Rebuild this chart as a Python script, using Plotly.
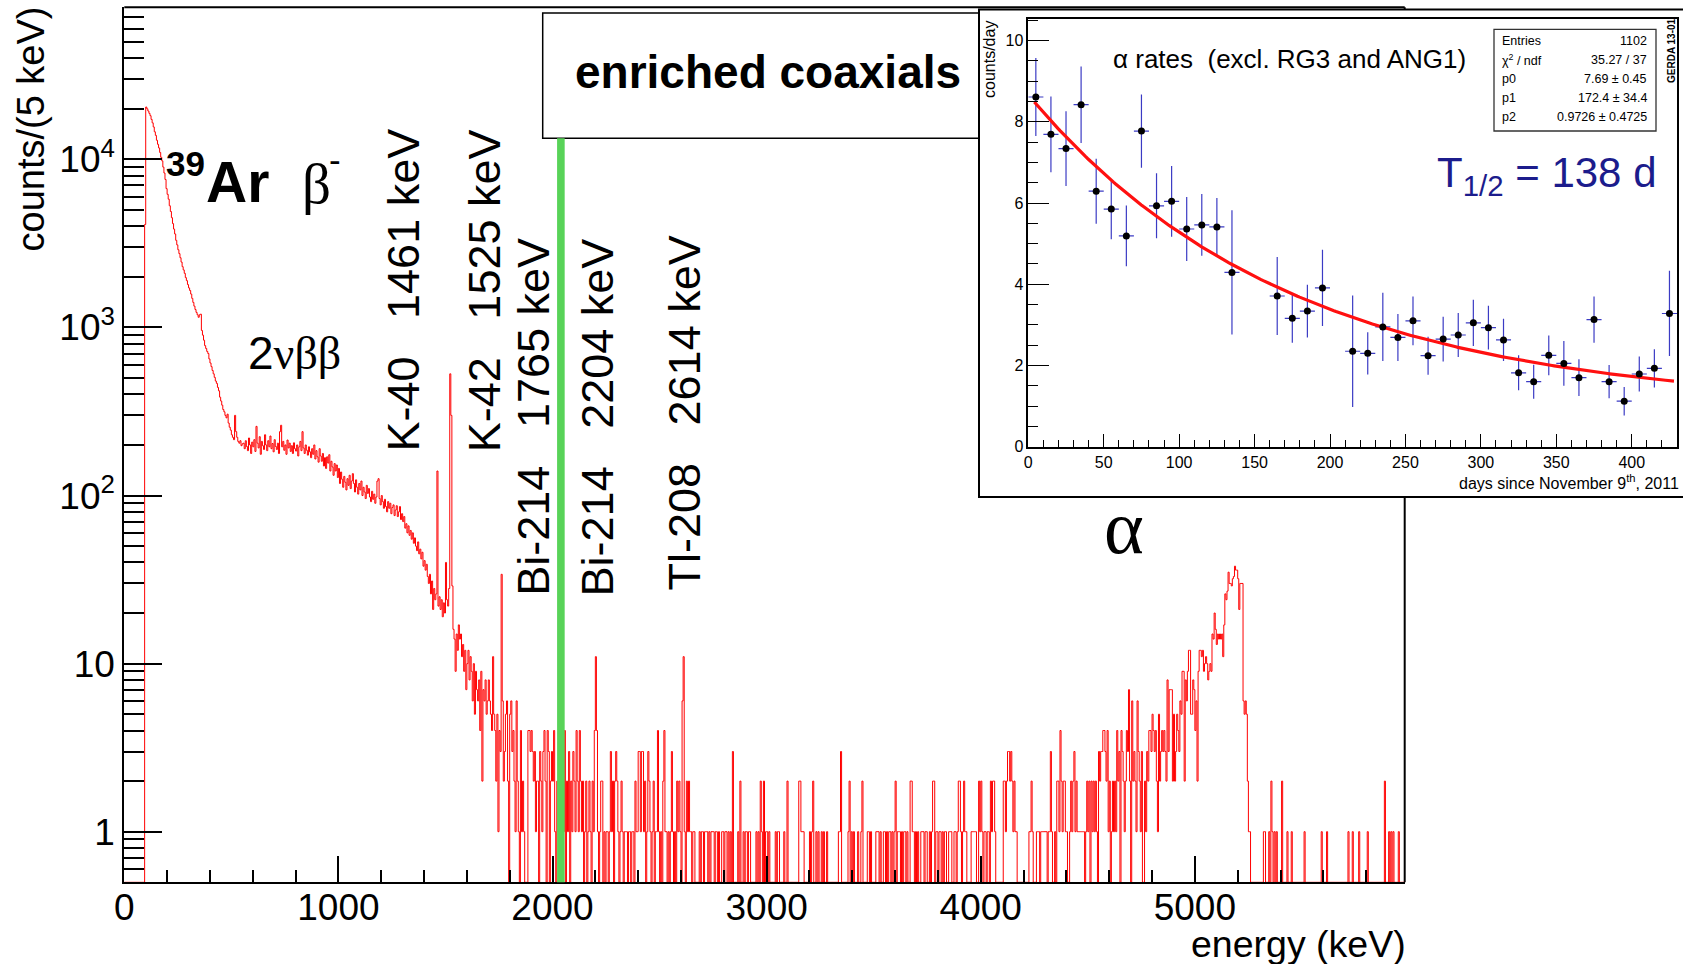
import numpy as np
import plotly.graph_objects as go

W, H = 1683, 964
SANS = "Liberation Sans, Arial, Helvetica, sans-serif"
SERIF = "Liberation Serif, Times New Roman, serif"


def fx(p):
    """pixel column -> paper x"""
    return p / W


def fy(p):
    """pixel row -> paper y"""
    return 1 - p / H


# ---------------- energy spectrum, counts per 5 keV bin ----------------
BIN_KEV = 5
E_MAX_KEV = 6000

# 39Ar beta spectrum (starts at the 95 keV bin)
counts_ar39 = [
    4100, 20500, 20000, 19400, 18800, 18200, 17300, 16500, 15600, 14600,
    13900, 13000, 12300, 11700, 11000, 10300, 9800, 9000, 8300, 7600,
    6700, 6200, 5800, 5300, 4900, 4500, 4150, 3850, 3600, 3300,
    3100, 2900, 2750, 2600, 2450, 2300, 2200, 2100, 1980, 1900,
    1800, 1720, 1660, 1580, 1490, 1410, 1340, 1280, 1230, 1190,
    1150, 1190, 1200, 960, 900, 840, 780, 750, 720, 700,
    650, 615, 585, 555, 530, 505, 480, 465, 440, 420,
    385, 365, 345, 325, 315, 300, 290, 305, 270, 255,
    245, 230, 222, 215, 300, 240, 222, 210, 205, 212,
    198, 203,
]
# 2nbb plateau (from 555 keV)
counts_2nbb = [
    205, 190, 212, 196, 185, 220, 200, 178, 208, 195,
    215, 183, 258, 205, 192, 224, 176, 210, 198, 188,
    230, 200, 185, 212, 195, 226, 190, 204, 182, 215,
    196, 188, 205, 178, 240, 262, 195, 210, 186, 200,
    176, 214, 192, 205, 183, 198, 178, 206, 190, 184,
    200, 172, 195, 210, 185, 240, 192, 178, 200, 186,
    174, 195, 182, 168, 190, 176, 200, 165, 185, 170,
    158, 190, 172, 160, 178, 150, 168, 145, 170, 156,
    175, 140, 160, 148, 132, 155, 140, 152, 128, 145,
]
# falling continuum (from 1005 keV)
counts_falloff = [
    118, 138, 125, 112, 130, 120, 108, 126, 115, 132,
    110, 122, 135, 118, 105, 124, 112, 102, 118, 108,
    122, 100, 112, 105, 96, 115, 103, 110, 98, 92,
    106, 95, 102, 90, 98, 122, 126, 96, 88, 100,
    92, 84, 95, 86, 80, 92, 84, 90, 78, 85,
    88, 76, 82, 87, 75, 80, 86, 72, 78, 70,
    75, 64, 68, 60, 66, 58, 62, 55, 60, 52,
    56, 50, 47, 53, 45, 48, 42, 46, 38, 41,
    36, 39, 33, 30, 34, 26, 31, 21, 28, 24,
]
# K-40 / K-42 / Bi-214 lines (from 1455 keV)
counts_k_lines = [
    26, 140, 22, 25, 21, 24, 19, 23, 20, 40,
    24, 22, 28, 530, 300, 29, 16, 14, 9, 15,
    12, 17, 14, 15, 11, 13, 9, 12, 7, 10,
    12, 8, 11, 9, 6, 10, 5, 9, 7, 6,
    8, 4, 9, 2, 7, 6, 8, 5, 6, 8,
    6, 5, 4, 11, 5, 4, 2, 5, 1, 4,
    3, 34, 6, 2, 3, 5, 6, 2, 0, 5,
    6, 3, 4, 2, 1, 6, 2, 1, 0, 4,
]
# region around Q_bb (from 1855 keV)
counts_qbb = [
    1, 2, 1, 0, 0, 0, 4, 4, 3, 4,
    3, 2, 3, 1, 2, 2, 0, 3, 2, 1,
    3, 4, 2, 0, 4, 3, 0, 2, 3, 2,
    4, 1, 0, 2, 1, 0, 1, 0, 1, 1,
    4, 0, 2, 1, 3, 0, 2, 1, 3, 2,
    1, 4, 2, 1, 4, 2, 1, 2, 0, 1,
    2, 0, 1, 2, 1, 0, 2, 1, 4, 11,
    4, 1, 0, 1, 2, 2, 0, 1, 0, 1,
    1, 0, 1, 3, 1, 2, 0, 2, 3, 2,
    1, 0, 1, 2, 1, 0, 1, 1, 1, 0,
    1, 1, 0, 1, 1, 0, 2, 1, 1, 3,
    3, 1, 3, 3, 1, 2, 0, 1, 3, 2,
    1, 0, 1, 2, 0, 1, 1, 4, 1, 0,
]
# Tl-208 region (from 2505 keV)
counts_tl = [
    1, 0, 2, 4, 1, 1, 0, 1, 0, 1,
    3, 1, 0, 1, 0, 2, 1, 2, 1, 0,
    6, 11, 1, 0, 2, 1, 2, 1, 1, 0,
    1, 1, 0, 0, 0, 0, 1, 0, 1, 1,
    0, 1, 1, 1, 0, 1, 0, 1, 1, 1,
    0, 1, 1, 0, 1, 0, 0, 1, 1, 0,
    1, 1, 0, 1, 0, 1, 0, 3, 0, 0,
    0, 0, 1, 0, 2, 0, 0, 1, 0, 1,
    1, 0, 1, 1, 0, 0, 0, 0, 0, 1,
    0, 1, 0, 2, 1, 0, 2, 0, 1, 1,
    0, 1, 0, 0, 0, 0, 0, 1, 0, 1,
    1, 0, 0, 0, 0, 1, 0, 0, 2, 0,
]
# flat region (from 3105 keV)
counts_mid = [
    0, 0, 0, 0, 0, 0, 0, 0, 0, 2,
    2, 1, 1, 1, 0, 0, 0, 0, 0, 1,
    0, 1, 2, 0, 0, 1, 0, 1, 0, 0,
    1, 0, 1, 0, 0, 1, 0, 0, 0, 0,
    0, 0, 0, 0, 0, 0, 1, 1, 3, 0,
    0, 0, 0, 0, 0, 1, 2, 0, 1, 0,
    1, 0, 0, 0, 1, 0, 0, 1, 2, 0,
    0, 0, 0, 1, 1, 0, 1, 0, 0, 0,
    0, 1, 1, 1, 0, 1, 0, 0, 1, 1,
    0, 1, 0, 1, 1, 0, 1, 0, 1, 2,
    0, 1, 1, 1, 0, 1, 0, 1, 1, 0,
    1, 0, 0, 2, 2, 1, 1, 0, 1, 0,
    1, 0, 0, 1, 1, 1, 0, 1, 1, 0,
    0, 1, 0, 1, 2, 2, 0, 1, 1, 0,
    1, 1, 0, 1, 0, 1, 1, 0, 0, 1,
    1, 1, 0, 0, 1, 1, 0, 1, 2, 2,
    1, 0, 1, 2, 1, 1, 0, 0, 0, 0,
    1, 1, 1, 1, 1, 0, 0, 2, 1, 2,
]
# rise towards the alpha peak (from 4005 keV)
counts_pre_alpha = [
    1, 0, 1, 1, 0, 1, 1, 0, 2, 1,
    2, 2, 1, 0, 0, 0, 0, 0, 0, 0,
    2, 2, 1, 2, 3, 3, 2, 3, 2, 1,
    2, 1, 1, 0, 0, 0, 0, 0, 0, 0,
    0, 0, 0, 0, 1, 1, 2, 1, 0, 0,
    0, 1, 1, 1, 0, 1, 1, 1, 1, 1,
    1, 0, 1, 1, 3, 1, 0, 0, 1, 0,
    2, 2, 1, 4, 2, 1, 2, 2, 1, 1,
    0, 0, 1, 2, 1, 2, 3, 1, 2, 1,
    1, 1, 1, 1, 1, 1, 0, 1, 2, 1,
    2, 0, 2, 1, 2, 1, 2, 1, 0, 3,
    2, 3,
]
# 210Po alpha peak (from 4565 keV)
counts_alpha = [
    3, 4, 4, 3, 2, 4, 1, 2, 0, 1,
    2, 1, 2, 1, 4, 2, 3, 0, 4, 3,
    2, 1, 2, 4, 3, 7, 2, 0, 6, 2,
    3, 2, 1, 6, 3, 2, 1, 3, 0, 0,
    2, 1, 3, 2, 4, 4, 3, 5, 4, 3,
    4, 2, 1, 5, 2, 3, 4, 3, 4, 3,
    2, 8, 3, 7, 7, 7, 2, 5, 2, 3,
    5, 4, 3, 6, 5, 9, 9, 2, 8, 6,
    9, 12, 12, 5, 5, 8, 7, 4, 6, 2,
    9, 12, 12, 11, 12, 9, 10, 11, 10, 8,
    9, 10, 9, 15, 14, 20, 16, 13, 15, 14,
    15, 14, 15, 11, 17, 26, 24, 27, 35, 30,
    30, 29, 32, 33, 38, 36, 36, 32, 21, 30,
    30, 30, 6, 5, 6, 5, 2, 1, 1, 0,
    0,
]
segment_start_kev = [95, 555, 1005, 1455, 1855, 2505, 3105, 4005, 4565]
segments = [counts_ar39, counts_2nbb, counts_falloff, counts_k_lines, counts_qbb,
            counts_tl, counts_mid, counts_pre_alpha, counts_alpha]

# isolated entries above the alpha peak
tail_energy_kev = [5320, 5325, 5345, 5355, 5360, 5370, 5380, 5405, 5430, 5450, 5510,
                   5590, 5615, 5715, 5735, 5765, 5805, 5885, 5905, 5915, 5925, 5950]
tail_counts = [1, 1, 1, 2, 1, 1, 1, 2, 1, 1, 1,
               1, 1, 1, 1, 1, 1, 2, 1, 1, 1, 1]

Q_BB_KEV = 2039

n_bins = E_MAX_KEV // BIN_KEV
counts = np.zeros(n_bins)
for start, seg in zip(segment_start_kev, segments):
    i0 = start // BIN_KEV
    counts[i0:i0 + len(seg)] = seg
for e, c in zip(tail_energy_kev, tail_counts):
    counts[e // BIN_KEV] = c

Y_MIN = 0.5  # empty bins sit on the lower frame edge
edges = np.arange(n_bins + 1) * BIN_KEV
shown = np.where(counts > 0, counts, Y_MIN)
y_steps = np.append(shown, shown[-1])

# ---------------- alpha rate vs time (inset) ----------------
days = [5, 15, 25, 35, 45, 55, 65, 75, 85, 95, 105, 115, 125, 135, 165, 175, 185, 195,
        215, 225, 235, 245, 255, 265, 275, 285, 295, 305, 315, 325, 335, 345, 355, 365,
        375, 385, 395, 405, 415, 425]
rate = [8.61, 7.69, 7.34, 8.42, 6.29, 5.85, 5.19, 7.77, 5.93, 6.04, 5.36, 5.46, 5.41, 4.29,
        3.71, 3.16, 3.34, 3.91, 2.35, 2.30, 2.95, 2.69, 3.10, 2.24, 2.65, 2.75, 3.05, 2.93,
        2.63, 1.82, 1.60, 2.25, 2.05, 1.70, 3.13, 1.60, 1.12, 1.79, 1.93, 3.28]
rate_err = [0.96, 0.93, 0.92, 0.94, 0.80, 0.74, 0.75, 0.90, 0.80, 0.87, 0.79, 0.76, 0.71, 1.53,
            0.96, 0.60, 0.65, 0.94, 1.37, 0.52, 0.84, 0.58, 0.60, 0.47, 0.55, 0.54, 0.57, 0.54,
            0.52, 0.43, 0.42, 0.49, 0.55, 0.45, 0.57, 0.41, 0.35, 0.43, 0.47, 1.05]
DAY_HALF_WIDTH = 5

# fit p0*exp(-t/p1)+p2 with the parameters quoted in the stats box
fit_p0, fit_p1, fit_p2 = 7.69, 172.4, 0.9726
fit_t = np.linspace(4, 428, 300)
fit_y = fit_p0 * np.exp(-fit_t / fit_p1) + fit_p2

stats_labels = ["Entries", "χ<sup>2</sup> / ndf", "p0", "p1", "p2"]
stats_values = ["1102", "35.27 / 37", "7.69 ± 0.45", "172.4 ± 34.4", "0.9726 ± 0.4725"]

# ---------------- figure ----------------
fig = go.Figure()
fig.add_trace(go.Scatter(
    x=edges, y=y_steps, mode="lines",
    line=dict(color="#ff0000", width=1, shape="hv"),
    xaxis="x", yaxis="y", hoverinfo="skip", showlegend=False))

blue = "#3b3bc4"
fig.add_trace(go.Scatter(
    x=days, y=rate, mode="markers",
    marker=dict(size=7, color="rgba(0,0,0,0)"),
    error_y=dict(type="data", array=rate_err, color=blue, thickness=1.2, width=0),
    error_x=dict(type="constant", value=DAY_HALF_WIDTH, color=blue, thickness=1.2, width=0),
    xaxis="x2", yaxis="y2", hoverinfo="skip", showlegend=False))
fig.add_trace(go.Scatter(
    x=fit_t, y=fit_y, mode="lines", line=dict(color="#ff1010", width=3.2),
    xaxis="x2", yaxis="y2", hoverinfo="skip", showlegend=False))
fig.add_trace(go.Scatter(
    x=days, y=rate, mode="markers", marker=dict(size=7, color="black"),
    xaxis="x2", yaxis="y2", hoverinfo="skip", showlegend=False))

MAIN_L, MAIN_R, MAIN_T, MAIN_B = 124.3, 1404.7, 7.3, 882.3
INS_L, INS_R, INS_T, INS_B = 1028.3, 1677.0, 19.0, 446.7

log_minor = [m * 10.0 ** k for k in range(-1, 5) for m in range(2, 10)]

fig.update_layout(
    width=W, height=H,
    margin=dict(l=0, r=0, t=0, b=0, autoexpand=False),
    paper_bgcolor="white", plot_bgcolor="rgba(0,0,0,0)",
    showlegend=False, hovermode=False,
    font=dict(family=SANS, color="black"),
    xaxis=dict(
        domain=[fx(MAIN_L), fx(MAIN_R)], range=[0, 5980], anchor="y", automargin=False,
        tickmode="array", tickvals=[0, 1000, 2000, 3000, 4000, 5000],
        ticks="inside", ticklen=26, tickwidth=1.5, tickcolor="black",
        ticklabelstandoff=-9,
        minor=dict(tick0=0, dtick=200, ticks="inside", ticklen=12, tickwidth=1.5,
                   tickcolor="black", showgrid=False),
        showline=True, linecolor="black", linewidth=2,
        showgrid=False, zeroline=False,
        tickfont=dict(family=SANS, size=37, color="black")),
    yaxis=dict(
        domain=[fy(MAIN_B), fy(MAIN_T)], type="log", automargin=False,
        range=[np.log10(Y_MIN), 4.905], anchor="x",
        tickmode="array", tickvals=[1, 10, 100, 1000, 10000],
        ticktext=["1", "10", "10<sup>2</sup>", "10<sup>3</sup>", "10<sup>4</sup>"],
        ticks="inside", ticklen=38, tickwidth=1.5, tickcolor="black",
        minor=dict(tickmode="array", tickvals=log_minor, ticks="inside", ticklen=20,
                   tickwidth=1.5, tickcolor="black", showgrid=False),
        showline=True, linecolor="black", linewidth=2,
        showgrid=False, zeroline=False,
        tickfont=dict(family=SANS, size=37, color="black")),
    xaxis2=dict(
        domain=[fx(INS_L), fx(INS_R)], range=[0, 430], anchor="y2", automargin=False,
        tickmode="array", tickvals=list(range(0, 401, 50)),
        ticks="inside", ticklen=13, tickwidth=1, tickcolor="black",
        minor=dict(tick0=0, dtick=10, ticks="inside", ticklen=7, tickwidth=1,
                   tickcolor="black", showgrid=False),
        showline=True, mirror=True, linecolor="black", linewidth=1.5,
        showgrid=False, zeroline=False,
        tickfont=dict(family=SANS, size=16, color="black")),
    yaxis2=dict(
        domain=[fy(INS_B), fy(INS_T)], range=[0, 10.53], anchor="x2", automargin=False,
        tickmode="array", tickvals=[0, 2, 4, 6, 8, 10],
        ticks="inside", ticklen=21, tickwidth=1, tickcolor="black",
        minor=dict(tick0=0, dtick=0.5, ticks="inside", ticklen=10, tickwidth=1,
                   tickcolor="black", showgrid=False),
        showline=True, mirror=True, linecolor="black", linewidth=1.5,
        showgrid=False, zeroline=False,
        tickfont=dict(family=SANS, size=16, color="black")),
)

shapes = [
    # top and right edges of the spectrum frame
    dict(type="line", xref="paper", yref="paper", layer="below",
         x0=fx(MAIN_L), x1=fx(MAIN_R), y0=fy(MAIN_T), y1=fy(MAIN_T),
         line=dict(color="black", width=2)),
    dict(type="line", xref="paper", yref="paper", layer="below",
         x0=fx(MAIN_R), x1=fx(MAIN_R), y0=fy(MAIN_T), y1=fy(MAIN_B),
         line=dict(color="black", width=2)),
    # title box
    dict(type="rect", xref="paper", yref="paper", layer="below",
         x0=fx(542.7), x1=fx(1300), y0=fy(138.3), y1=fy(12.9),
         line=dict(color="black", width=1.5), fillcolor="white"),
    # inset panel background
    dict(type="rect", xref="paper", yref="paper", layer="below",
         x0=fx(979), x1=fx(1700), y0=fy(497), y1=fy(9.5),
         line=dict(color="black", width=2), fillcolor="white"),
    # Q_bb marker
    dict(type="line", xref="x", yref="paper", layer="above",
         x0=Q_BB_KEV, x1=Q_BB_KEV, y0=fy(MAIN_B), y1=fy(138.3),
         line=dict(color="#58d358", width=7.6)),
    # stats box
    dict(type="rect", xref="paper", yref="paper", layer="above",
         x0=fx(1494), x1=fx(1656), y0=fy(131), y1=fy(29.3),
         line=dict(color="#333333", width=1.3), fillcolor="white"),
]
fig.update_layout(shapes=shapes)

ann = []


def add_text(text, x, y, size, xanchor="left", yanchor="bottom", angle=0,
             family=SANS, color="black"):
    ann.append(dict(text=text, x=fx(x), y=fy(y), xref="paper", yref="paper",
                    xanchor=xanchor, yanchor=yanchor, textangle=angle,
                    showarrow=False, borderpad=0,
                    font=dict(family=family, size=size, color=color)))


# axis titles
add_text("counts/(5 keV)", 31, 6, 38, xanchor="center", yanchor="top", angle=-90)
add_text("energy (keV)", MAIN_R + 2, 944, 37.5, xanchor="right", yanchor="middle")

# physics labels
add_text("<b>39</b>", 165, 184, 35)
add_text("<b>Ar</b>", 205, 215, 57)
add_text("β", 301, 216, 57, family=SERIF)
add_text("-", 328, 180, 35)
add_text("2<span style='font-family:Liberation Serif'>νββ</span>", 247, 380, 46)

line_labels = [
    ("K-40   1461 keV", 429.5, 453),
    ("K-42   1525 keV", 511.2, 453),
    ("Bi-214   1765 keV", 559.2, 597),
    ("Bi-214   2204 keV", 623.9, 597),
    ("Tl-208   2614 keV", 710.5, 592),
]
for txt, xr, yb in line_labels:
    add_text(txt, xr, yb, 45, xanchor="right", yanchor="bottom", angle=-90)

add_text("<b>enriched coaxials</b>", 768, 72, 46, xanchor="center", yanchor="middle")
add_text("α", 1124, 570, 76, xanchor="center", family=SERIF)

# inset texts
add_text("α rates  (excl. RG3 and ANG1)", 1112, 75, 26)
add_text("T<sub>1/2</sub> = 138 d", 1436, 203, 42, color="#1c1c8c")
add_text("counts/day", 989.5, 20, 16, xanchor="center", yanchor="top", angle=-90)
add_text("days since November 9<sup>th</sup>, 2011", 1680, 482, 16,
         xanchor="right", yanchor="middle")
add_text("<b>GERDA 13-01</b>", 1671, 51, 10, xanchor="center", yanchor="middle", angle=-90)
for i, (lab, val) in enumerate(zip(stats_labels, stats_values)):
    yc = 41.5 + 18.8 * i
    add_text(lab, 1501, yc, 12.5, yanchor="middle")
    add_text(val, 1648, yc, 12.5, xanchor="right", yanchor="middle")

fig.update_layout(annotations=ann)

fig.write_html("out.html")
